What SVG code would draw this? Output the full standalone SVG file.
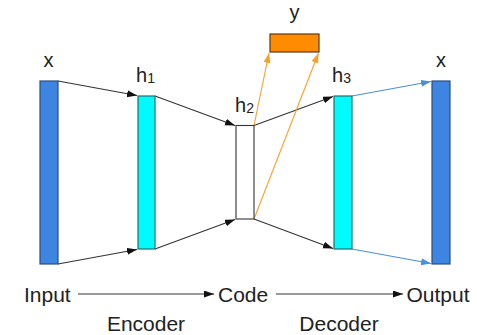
<svg xmlns="http://www.w3.org/2000/svg" width="477" height="335" viewBox="0 0 477 335">
<style>
text{font-family:"Liberation Sans",Arial,sans-serif;fill:#222}
.lbl{font-size:20px}
.sub{font-size:14px}
.bot{font-size:21px}
.blue{fill:#3d85e0;stroke:#2b4f80;stroke-width:1.2}
.cyan{fill:#00fbff;stroke:#1e6e6e;stroke-width:1.2}
.k{stroke:#333;stroke-width:1.1;fill:none}
.b{stroke:#4a90d9;stroke-width:1.1;fill:none}
.o{stroke:#f5a030;stroke-width:1.1;fill:none}
</style>
<defs>
<marker id="ak" markerUnits="userSpaceOnUse" markerWidth="11" markerHeight="8" refX="10" refY="3.5" orient="auto"><path d="M0,0 L10,3.5 L0,7 z" fill="#111"/></marker>
<marker id="ab" markerUnits="userSpaceOnUse" markerWidth="11" markerHeight="8" refX="10" refY="3.5" orient="auto"><path d="M0,0 L10,3.5 L0,7 z" fill="#4a90d9"/></marker>
<marker id="ao" markerUnits="userSpaceOnUse" markerWidth="11" markerHeight="8" refX="10" refY="3.5" orient="auto"><path d="M0,0 L10,3.5 L0,7 z" fill="#f5a030"/></marker>
</defs>
<g id="connectors">
<line class="k" x1="58" y1="81" x2="137" y2="95.5" marker-end="url(#ak)"/>
<line class="k" x1="58" y1="264" x2="137" y2="249.5" marker-end="url(#ak)"/>
<line class="k" x1="155" y1="96" x2="235" y2="125.5" marker-end="url(#ak)"/>
<line class="k" x1="155" y1="249" x2="235" y2="219.5" marker-end="url(#ak)"/>
<line class="k" x1="254" y1="125.5" x2="333" y2="96.5" marker-end="url(#ak)"/>
<line class="k" x1="254" y1="219" x2="333" y2="248.5" marker-end="url(#ak)"/>
<line class="b" x1="352" y1="96" x2="431" y2="81.5" marker-end="url(#ab)"/>
<line class="b" x1="352" y1="249" x2="431" y2="263.5" marker-end="url(#ab)"/>
<line class="o" x1="254" y1="125.5" x2="269" y2="53" marker-end="url(#ao)"/>
<line class="o" x1="254" y1="219" x2="318.5" y2="53" marker-end="url(#ao)"/>
<line class="k" x1="78" y1="294" x2="214" y2="294" marker-end="url(#ak)"/>
<line class="k" x1="276" y1="294" x2="403" y2="294" marker-end="url(#ak)"/>
</g>
<g id="input"><rect class="blue" x="40" y="81" width="18" height="183"/><text class="lbl" x="48.5" y="67" text-anchor="middle">x</text></g>
<g id="h1"><rect class="cyan" x="138" y="96" width="17" height="153"/><text class="lbl" x="136" y="82">h<tspan class="sub" dy="1">1</tspan></text></g>
<g id="h2"><rect x="236" y="125.5" width="18" height="93.5" fill="#fff" stroke="#333" stroke-width="1.1"/><text class="lbl" x="235" y="112">h<tspan class="sub" dy="1">2</tspan></text></g>
<g id="y"><rect x="270" y="34" width="49" height="18" fill="#ff8c00" stroke="#5a3a10" stroke-width="1.2"/><text class="lbl" x="294.5" y="19" text-anchor="middle">y</text></g>
<g id="h3"><rect class="cyan" x="334" y="96" width="18" height="153"/><text class="lbl" x="332" y="82">h<tspan class="sub" dy="1">3</tspan></text></g>
<g id="output"><rect class="blue" x="432" y="81" width="18" height="183"/><text class="lbl" x="441" y="67" text-anchor="middle">x</text></g>
<g id="labels">
<text class="bot" x="24" y="301.5">Input</text>
<text class="bot" x="218" y="301.5">Code</text>
<text class="bot" x="406.5" y="301.5">Output</text>
<text class="bot" x="146" y="331" text-anchor="middle">Encoder</text>
<text class="bot" x="339" y="331" text-anchor="middle">Decoder</text>
</g>
</svg>
